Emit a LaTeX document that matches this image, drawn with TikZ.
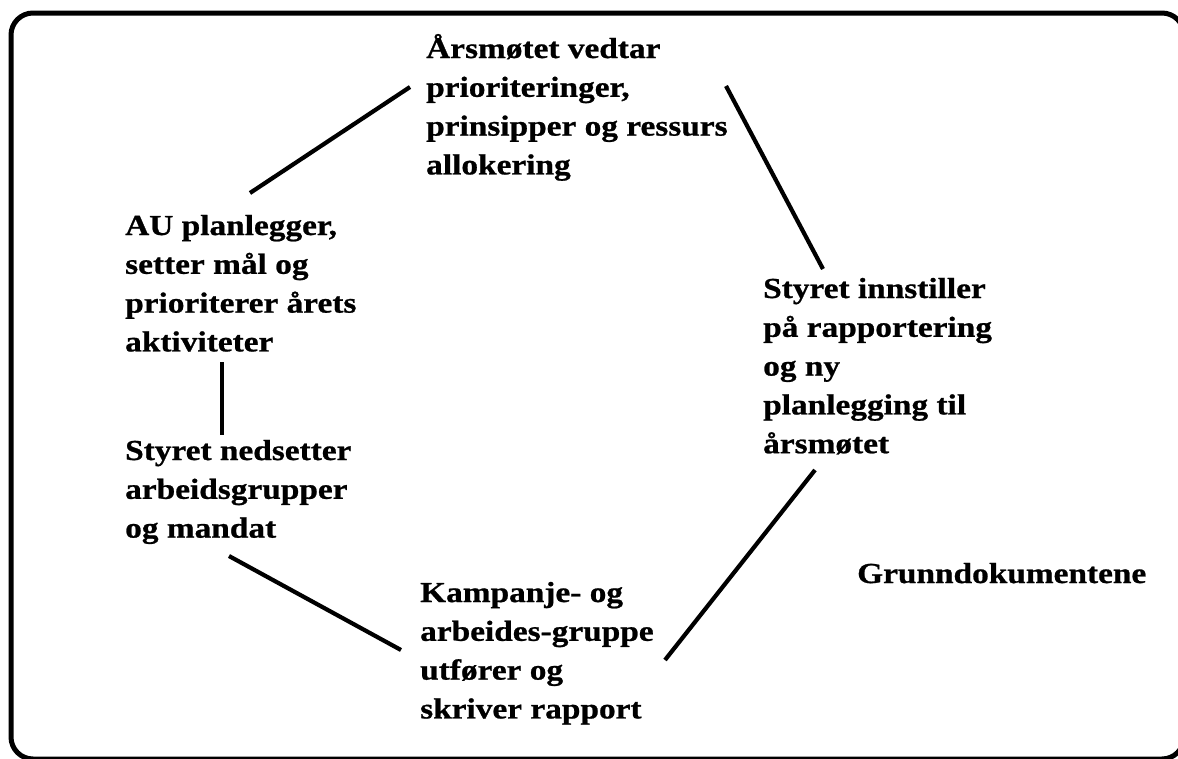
\documentclass[tikz,border=0pt]{standalone}
\usepackage{fontspec}
\newfontfamily\tnr{Liberation Serif}[FakeStretch=1.15,FakeBold=0.8]
\newcommand\mylines[1]{\parbox[t]{340pt}{\raggedright #1}}
\tikzset{
  txt/.style={anchor=base west, inner sep=0pt, font=\tnr\bfseries\fontsize{29}{38.8}\selectfont},
  conn/.style={line width=4.2pt, black},
  frame/.style={line width=5pt, rounded corners=22pt, black}
}
\begin{document}
\begin{tikzpicture}[x=1pt,y=-1pt]
\useasboundingbox (0,0) rectangle (1178,758);
\fill[white] (0,0) rectangle (1178,758);
\draw[frame] (11,13) rectangle (1184,759);

\node[txt] (aars) at (426,58) {\mylines{Årsmøtet vedtar\\prioriteringer,\\prinsipper og ressurs\\allokering}};
\node[txt] (au) at (125,235) {\mylines{AU planlegger,\\setter mål og\\prioriterer årets\\aktiviteter}};
\node[txt] (ned) at (125,460) {\mylines{Styret nedsetter\\arbeidsgrupper\\og mandat}};
\node[txt] (kamp) at (420,602) {\mylines{Kampanje- og\\arbeides-gruppe\\utfører og\\skriver rapport}};
\node[txt] (inn) at (763,298) {\mylines{Styret innstiller\\på rapportering\\og ny\\planlegging til\\årsmøtet}};
\node[txt] (grunn) at (857,583) {\mylines{Grunndokumentene}};

\coordinate (au-n) at (250,193);
\coordinate (aars-w) at (410,87);
\coordinate (aars-e) at (726,86);
\coordinate (inn-n) at (823,269);
\coordinate (au-s) at (222,362);
\coordinate (ned-n) at (222,435);
\coordinate (ned-s) at (229,556);
\coordinate (kamp-w) at (401,650);
\coordinate (kamp-e) at (665,660);
\coordinate (inn-s) at (815,470);

\draw[conn] (au-n) -- (aars-w);
\draw[conn] (aars-e) -- (inn-n);
\draw[conn] (au-s) -- (ned-n);
\draw[conn] (ned-s) -- (kamp-w);
\draw[conn] (kamp-e) -- (inn-s);
\end{tikzpicture}
\end{document}
